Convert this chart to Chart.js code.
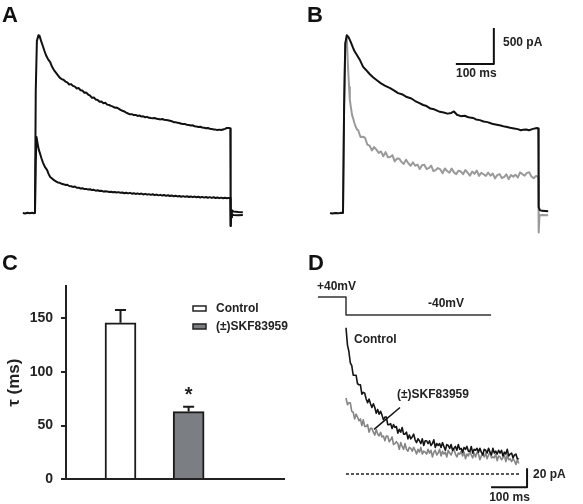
<!DOCTYPE html>
<html><head><meta charset="utf-8">
<script src="https://cdn.jsdelivr.net/npm/chart.js@4/dist/chart.umd.min.js"></script>
<style>
html,body{margin:0;padding:0;background:#fff;}
#fig{position:relative;width:583px;height:504px;overflow:hidden;background:#fff;}
canvas{position:absolute;}
.lab{position:absolute;font:bold 22px "Liberation Sans",Arial,sans-serif;line-height:22px;color:#111;}
</style></head><body>
<div id="fig">
<canvas id="cA" width="240" height="210" style="left:15px;top:25px"></canvas>
<canvas id="cB" width="240" height="210" style="left:320px;top:25px"></canvas>
<canvas id="cC" width="300" height="234" style="left:0px;top:270px"></canvas>
<canvas id="cD" width="283" height="234" style="left:300px;top:270px"></canvas>
<div class="lab" style="left:2px;top:4px">A</div>
<div class="lab" style="left:307px;top:4px">B</div>
<div class="lab" style="left:2px;top:252px">C</div>
<div class="lab" style="left:308px;top:252px">D</div>
</div>
<script>
// ---------- DATA (time in ms, current in pA) ----------
const seriesNames = ['Control', '(±)SKF83959'];

// Panel A: control cell, two traces
const traceA_top = [[-32,0],[-26,-6],[-20,3],[-14,-4],[-8,2],[-3,-3],[0,0],[2,1700],[5,2390],[9,2470],[12,2460],[16,2390],[20,2330],[25,2250],[30,2180],[35,2130],[40,2095],[45,2030],[50,1985],[55,1950],[60,1915],[65,1880],[70,1860],[75,1850],[80,1825],[85,1815],[90,1785],[95,1790],[100,1765],[105,1755],[110,1730],[115,1735],[120,1705],[125,1700],[130,1670],[135,1672],[140,1645],[145,1630],[150,1600],[155,1605],[160,1575],[165,1570],[170,1545],[175,1548],[180,1525],[185,1530],[190,1505],[195,1500],[200,1488],[205,1478],[210,1462],[215,1465],[220,1450],[225,1432],[230,1420],[235,1410],[240,1395],[245,1382],[250,1370],[255,1372],[260,1360],[265,1362],[270,1348],[275,1355],[280,1340],[285,1342],[290,1330],[295,1335],[300,1322],[305,1318],[310,1315],[315,1320],[320,1308],[325,1305],[330,1300],[335,1306],[340,1295],[345,1292],[350,1288],[355,1282],[360,1275],[365,1262],[370,1262],[375,1252],[380,1250],[385,1238],[390,1236],[395,1235],[400,1225],[405,1222],[410,1215],[415,1218],[420,1205],[425,1200],[430,1195],[435,1198],[440,1187],[445,1185],[450,1178],[455,1182],[460,1170],[465,1168],[470,1160],[475,1158],[480,1153],[485,1158],[490,1152],[495,1160],[500,1168],[505,1180],[510,1182],[514,1175],[515,-180],[516,-60],[518,40],[522,20],[535,14],[547,12]];
const traceA_low = [[0,0],[2,700],[4,1056],[7,960],[10,880],[13,830],[17,760],[21,700],[26,640],[32,595],[36,540],[40,500],[45,480],[50,455],[55,440],[60,425],[65,420],[70,405],[75,400],[80,390],[85,392],[90,375],[95,372],[100,362],[105,368],[110,350],[115,352],[120,340],[125,345],[130,332],[135,335],[140,325],[145,330],[150,318],[155,322],[160,310],[165,316],[170,305],[175,310],[180,298],[185,302],[190,300],[195,292],[200,296],[205,288],[210,292],[215,285],[220,290],[225,280],[230,285],[235,275],[240,282],[245,272],[250,280],[255,268],[260,275],[265,265],[270,272],[275,262],[280,270],[285,258],[290,266],[295,255],[300,262],[305,252],[310,260],[315,248],[320,256],[325,245],[330,252],[335,242],[340,250],[345,238],[350,246],[355,236],[360,244],[365,232],[370,240],[375,230],[380,236],[385,226],[390,234],[395,224],[400,232],[405,222],[410,230],[415,220],[420,228],[425,218],[430,226],[435,216],[440,224],[445,214],[450,222],[455,212],[460,220],[465,210],[470,218],[475,208],[480,216],[485,206],[490,214],[495,205],[500,212],[505,206],[510,210],[514,208],[515,-180],[516,-60],[518,-20],[522,-28],[535,-30],[547,-28]];

// Panel B: control (black) vs (±)SKF83959 (gray)
const traceB_control = [[-34,0],[-28,-8],[-20,0],[-12,-5],[-5,3],[0,0],[3,1500],[6,2350],[10,2470],[15,2440],[20,2380],[26,2300],[30,2250],[37,2190],[45,2120],[53,2030],[60,1990],[70,1930],[79,1885],[90,1840],[100,1800],[110,1770],[124,1735],[135,1700],[145,1665],[155,1650],[168,1610],[180,1590],[190,1555],[200,1530],[211,1500],[220,1485],[230,1450],[240,1440],[255,1405],[265,1395],[275,1380],[285,1390],[292,1410],[300,1365],[310,1345],[320,1350],[330,1330],[342,1320],[350,1300],[360,1290],[370,1270],[380,1262],[387,1250],[395,1235],[405,1225],[415,1215],[425,1200],[432,1194],[440,1185],[450,1175],[460,1165],[468,1150],[474,1155],[482,1160],[490,1150],[498,1165],[505,1175],[510,1180],[514,1175],[515,80],[518,40],[524,30],[540,25]];
const traceB_skf = [[0,0],[3,1500],[6,2350],[10,2440],[13,2050],[16,1750],[18,1570],[21,1460],[24,1360],[27,1310],[30,1250],[34,1190],[37,1160],[40,1150],[46,1055],[52,1060],[58,1045],[64,950],[70,935],[76,870],[82,915],[88,880],[94,835],[100,855],[106,788],[112,845],[118,775],[124,778],[130,803],[136,717],[142,756],[148,755],[154,709],[160,682],[166,740],[172,690],[178,657],[184,704],[190,656],[196,673],[202,610],[208,663],[214,671],[220,610],[226,624],[232,658],[238,582],[244,596],[250,625],[256,606],[262,552],[268,618],[274,584],[280,560],[286,617],[292,564],[298,540],[304,588],[310,576],[316,539],[322,597],[328,560],[334,518],[340,576],[346,543],[352,590],[358,516],[364,557],[370,538],[376,515],[382,562],[388,518],[394,549],[400,480],[406,525],[412,540],[418,485],[424,500],[430,537],[436,470],[442,528],[448,505],[454,532],[460,490],[466,565],[472,540],[478,518],[484,557],[490,565],[496,508],[502,482],[508,515],[514,500],[515,-270],[517,-40],[522,-28],[540,-30]];
const scaleBarB = [[297,2070],[397,2070],[397,2570]]; // 100 ms x 500 pA
const scaleBarB_labels = ['500 pA','100 ms'];

// Panel C: decay time constant
const barLabels = seriesNames;
const barValues = [146, 63];
const barErrors = [12, 4.5];
const yTicksC = [0, 50, 100, 150];

// Panel D: tail currents at -40 mV
const traceD_control = [[0,154],[4,136],[8,129],[12,117],[16,114],[20,104],[24,104],[28,104],[32,95],[36,94],[40,94],[44,84],[48,86],[52,85],[56,79],[60,75],[64,79],[68,74],[72,70],[76,74],[80,70],[84,64],[88,68],[92,63],[96,66],[100,62],[104,57],[108,60],[112,60],[116,52],[120,52],[124,53],[128,48],[132,52],[136,49],[140,50],[144,43],[148,47],[152,44],[156,49],[160,42],[164,42],[168,44],[172,37],[176,41],[180,37],[184,39],[188,42],[192,36],[196,33],[200,37],[204,35],[208,32],[212,37],[216,30],[220,35],[224,35],[228,32],[232,35],[236,30],[240,32],[244,36],[248,28],[252,32],[256,30],[260,32],[264,28],[268,33],[272,29],[276,25],[280,31],[284,30],[288,27],[292,31],[296,25],[300,27],[304,29],[308,25],[312,31],[316,26],[320,27],[324,23],[328,28],[332,26],[336,29],[340,24],[344,24],[348,29],[352,22],[356,26],[360,25],[364,27],[368,23],[372,27],[376,23],[380,20],[384,26],[388,25],[392,22],[396,27],[400,23],[404,20],[408,27],[412,22],[416,24],[420,21],[424,25],[428,22],[432,25],[436,19],[440,23],[444,21],[448,26],[452,19],[456,21],[460,22],[464,17],[468,20],[472,21],[476,16],[480,16]];
const traceD_skf = [[0,80],[4,73],[8,75],[12,75],[16,66],[20,65],[24,58],[28,63],[32,60],[36,56],[40,58],[44,51],[48,57],[52,50],[56,50],[60,52],[64,44],[68,48],[72,48],[76,44],[80,41],[84,47],[88,42],[92,40],[96,44],[100,39],[104,40],[108,35],[112,40],[116,40],[120,34],[124,36],[128,39],[132,31],[136,32],[140,34],[144,32],[148,26],[152,33],[156,29],[160,26],[164,32],[168,26],[172,24],[176,28],[180,27],[184,24],[188,28],[192,25],[196,21],[200,26],[204,23],[208,28],[212,21],[216,24],[220,23],[224,21],[228,26],[232,22],[236,25],[240,18],[244,23],[248,25],[252,20],[256,22],[260,26],[264,19],[268,24],[272,21],[276,23],[280,18],[284,25],[288,22],[292,20],[296,24],[300,26],[304,21],[308,18],[312,22],[316,21],[320,24],[324,19],[328,23],[332,16],[336,21],[340,19],[344,24],[348,20],[352,17],[356,22],[360,18],[364,23],[368,21],[372,15],[376,19],[380,21],[384,18],[388,22],[392,16],[396,20],[400,23],[404,17],[408,18],[412,17],[416,21],[420,14],[424,19],[428,18],[432,15],[436,17],[440,20],[444,13],[448,20],[452,15],[456,16],[460,13],[464,16],[468,14],[472,10],[476,15],[480,11]];
const voltageStep = [[-78,40],[0,40],[0,-40],[403,-40]]; // mV
const stepLabels = ['+40mV','-40mV'];
const baselineD = [[0,0],[483,0]];
const scaleBarD = [[403,-14],[503,-14],[503,6]]; // 100 ms x 20 pA
const scaleBarD_labels = ['20 pA','100 ms'];
const pointerD = [[78,47],[150,70]];

// ---------- RENDERING ----------
const FONT = '"Liberation Sans", Arial, Helvetica, sans-serif';
const pts = a => a.map(([x,y]) => ({x, y}));
function ds(arr, color, width, extra) {
  return Object.assign({data: pts(arr), borderColor: color, borderWidth: width, pointRadius: 0,
    showLine: true, fill: false, tension: 0, borderJoinStyle: 'round', borderCapStyle: 'butt', clip: false}, extra || {});
}
function textPlugin(items) {
  return {id: 'txt', afterDraw(chart) {
    const c = chart.ctx; c.save();
    items.forEach(it => {
      c.font = (it.weight || 'bold') + ' ' + (it.size || 12) + 'px ' + FONT;
      c.fillStyle = it.color || '#222';
      c.textAlign = it.align || 'left';
      c.textBaseline = 'middle';
      c.fillText(it.text, it.x, it.y);
    });
    c.restore();
  }};
}
function traceChart(id, datasets, xr, yr, extraScales, plugins) {
  const scales = {
    x: {type: 'linear', display: false, min: xr[0], max: xr[1]},
    y: {type: 'linear', display: false, min: yr[0], max: yr[1]}
  };
  Object.assign(scales, extraScales || {});
  return new Chart(document.getElementById(id), {
    type: 'scatter',
    data: {datasets},
    options: {
      responsive: false, animation: false, events: [],
      layout: {padding: 0, autoPadding: false},
      scales,
      plugins: {legend: {display: false}, tooltip: {enabled: false}}
    },
    plugins: plugins || []
  });
}

// Panel A
traceChart('cA', [
  ds(traceA_top, '#111', 2),
  ds(traceA_low, '#111', 2)
], [-52.6, 579], [-305.6, 2611]);

// Panel B
traceChart('cB', [
  ds(scaleBarB, '#111', 2),
  ds(traceB_control, '#111', 2),
  ds(traceB_skf, '#9a9a9a', 2)
], [-60.5, 571.1], [-305.6, 2611], null, [textPlugin([
  {text: scaleBarB_labels[0], x: 183, y: 18},
  {text: scaleBarB_labels[1], x: 136, y: 49}
])]);

// Panel C
const barFills = ['#ffffff', '#7b7f83'];
const errPlugin = {id: 'err', afterDatasetsDraw(chart) {
  const meta = chart.getDatasetMeta(0), ys = chart.scales.y, c = chart.ctx;
  c.save(); c.strokeStyle = '#1a1a1a'; c.lineWidth = 2;
  meta.data.forEach((bar, i) => {
    const top = ys.getPixelForValue(barValues[i] + barErrors[i]);
    c.beginPath();
    c.moveTo(bar.x, bar.y); c.lineTo(bar.x, top);
    c.moveTo(bar.x - 5.5, top); c.lineTo(bar.x + 5.5, top);
    c.stroke();
  });
  const b = meta.data[1], top = ys.getPixelForValue(barValues[1] + barErrors[1]);
  c.fillStyle = '#222'; c.font = 'bold 20px ' + FONT; c.textAlign = 'center'; c.textBaseline = 'alphabetic';
  c.fillText('*', b.x, top - 6);
  // legend
  c.font = 'bold 12px ' + FONT; c.textAlign = 'left'; c.textBaseline = 'middle'; c.lineWidth = 1.5;
  barLabels.forEach((lab, i) => {
    const y = 36 + i * 18;
    c.fillStyle = barFills[i]; c.fillRect(193, y, 13, 5);
    c.strokeStyle = '#222'; c.strokeRect(193, y, 13, 5);
    c.fillStyle = '#222'; c.fillText(lab, 216, y + 3);
  });
  c.restore();
}};
new Chart(document.getElementById('cC'), {
  type: 'bar',
  data: {datasets: [{
    data: barValues.map((v, i) => ({x: i + 1, y: v})),
    backgroundColor: barFills, borderColor: '#1a1a1a', borderWidth: 2,
    barThickness: 31, borderSkipped: 'start'
  }]},
  options: {
    responsive: false, animation: false, events: [],
    layout: {padding: {top: 15, right: 16, bottom: 25, left: 0}, autoPadding: false},
    scales: {
      x: {type: 'linear', min: 0.2, max: 3.4, offset: false,
          ticks: {display: false}, grid: {display: false, offset: false, drawTicks: false},
          border: {display: true, width: 2, color: '#222'},
          afterFit(s) { s.height = 0; }},
      y: {type: 'linear', min: 0, max: 180,
          ticks: {stepSize: 50, padding: 8, color: '#222', font: {family: FONT, size: 14, weight: 'bold'}},
          afterBuildTicks(s) { s.ticks = s.ticks.filter(t => yTicksC.includes(t.value)); },
          grid: {drawOnChartArea: false, drawTicks: true, tickLength: 5, color: '#222', lineWidth: 2},
          border: {display: true, width: 2, color: '#222'},
          title: {display: true, text: 'τ (ms)', color: '#222', font: {family: FONT, size: 17, weight: 'bold'}},
          afterFit(s) { s.width = 66; }}
    },
    plugins: {legend: {display: false}, tooltip: {enabled: false}}
  },
  plugins: [errPlugin]
});

// Panel D
traceChart('cD', [
  ds(traceD_control, '#151515', 1.6),
  ds(traceD_skf, '#858585', 1.6),
  ds(voltageStep, '#333', 1.5, {yAxisID: 'yV'}),
  ds(baselineD, '#222', 1.5, {borderDash: [3, 2]}),
  ds(scaleBarD, '#111', 2),
  ds(pointerD, '#111', 1.5)
], [-127.8, 658.4], [-31.6, 214.8],
  {yV: {type: 'linear', display: false, min: -880, max: 160}},
  [textPlugin([
    {text: stepLabels[0], x: 17, y: 17},
    {text: stepLabels[1], x: 128, y: 34},
    {text: seriesNames[0], x: 54, y: 70},
    {text: seriesNames[1], x: 97, y: 125},
    {text: scaleBarD_labels[0], x: 233, y: 205},
    {text: scaleBarD_labels[1], x: 209.5, y: 228, align: 'center'}
  ])]);
</script>
</body></html>
